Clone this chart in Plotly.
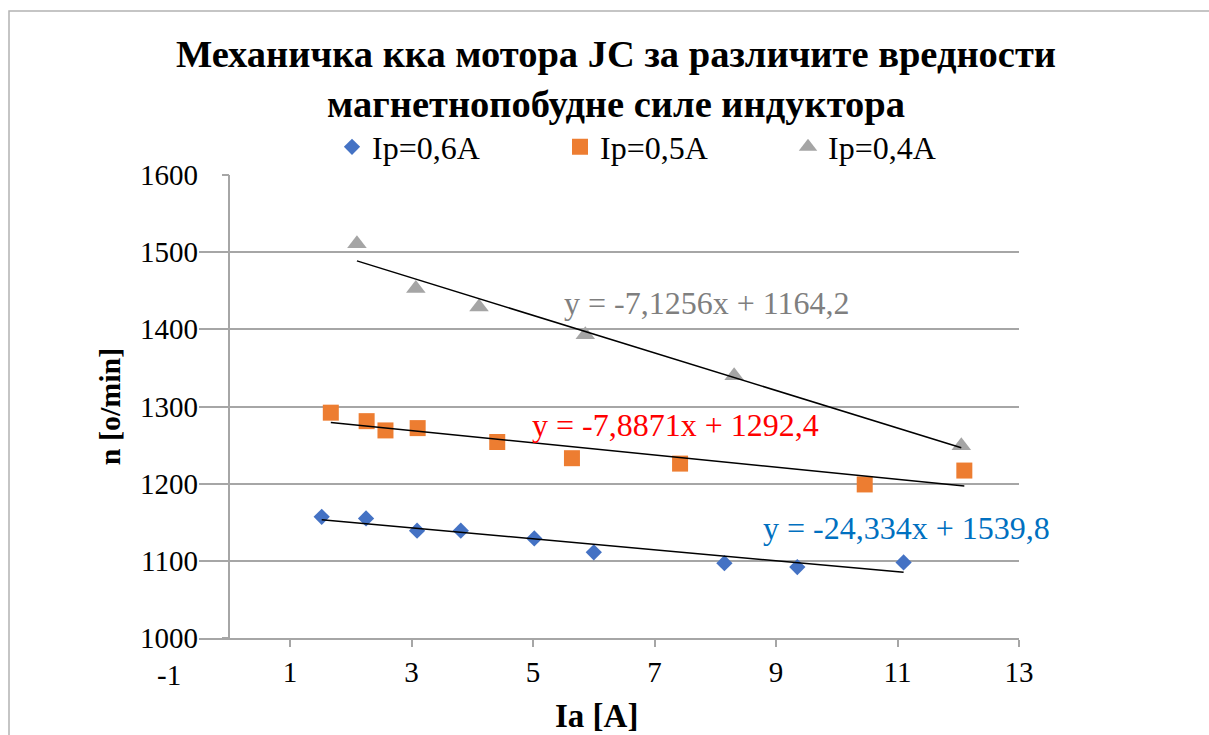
import plotly.graph_objects as go

# ---- data ----
ia_06 = [1.52, 2.25, 3.09, 3.81, 5.02, 6.00, 8.15, 9.35, 11.10]
n_06 = [1157, 1155, 1139, 1139, 1129, 1111, 1097, 1092, 1098]
ia_05 = [1.67, 2.26, 2.57, 3.10, 4.41, 5.64, 7.42, 10.46, 12.10]
n_05 = [1292, 1281, 1269, 1272, 1254, 1233, 1226, 1199, 1217]
ia_04 = [2.10, 3.07, 4.11, 5.86, 8.31, 12.05]
n_04 = [1511, 1453, 1429, 1393, 1340, 1249]

series_names = ["Ip=0,6A", "Ip=0,5A", "Ip=0,4A"]
series_colors = ["#4472C4", "#ED7D31", "#A5A5A5"]
series_symbols = ["diamond", "square", "triangle-up"]
series_sizes = [12.5, 16, 17]

# linear trendline coefficients printed on the chart (one per series)
trend_slope = [-7.1256, -7.8871, -24.334]
trend_intercept = [1164.2, 1292.4, 1539.8]
eq_labels = ["y = -7,1256x + 1164,2", "y = -7,8871x + 1292,4", "y = -24,334x + 1539,8"]
eq_colors = ["#7F7F7F", "#FF0000", "#0070C0"]
eq_x = [7.87, 7.34, 11.15]
eq_y = [1434, 1276, 1142]

x_ticks = [-1, 1, 3, 5, 7, 9, 11, 13]
y_ticks = [1000, 1100, 1200, 1300, 1400, 1500, 1600]

title_text = "Механичка кка мотора JC за различите вредности<br>магнетнопобудне силе индуктора"
x_title = "Ia [A]"
y_title = "n [o/min]"

# ---- layout geometry ----
W, H = 1209, 735
L, R, T, B = 199, 190, 175, 97
x_range = [-0.5, 13]
y_range = [1000, 1600]
FONT = "Liberation Serif"
GRID = "#A6A6A6"

xs = [ia_06, ia_05, ia_04]
ys = [n_06, n_05, n_04]

fig = go.Figure()
for i in range(3):
    fig.add_trace(go.Scatter(
        x=xs[i], y=ys[i], mode="markers", name=series_names[i],
        marker=dict(symbol=series_symbols[i], color=series_colors[i],
                    size=series_sizes[i], line=dict(width=0)),
    ))
for i in range(3):
    x0, x1 = min(xs[i]), max(xs[i])
    fig.add_trace(go.Scatter(
        x=[x0, x1],
        y=[trend_slope[i] * x0 + trend_intercept[i], trend_slope[i] * x1 + trend_intercept[i]],
        mode="lines", line=dict(color="black", width=1.5),
        showlegend=False, hoverinfo="skip",
    ))
# helper trace for the vertical axis drawn at x = 0
fig.add_trace(go.Scatter(x=[], y=[], yaxis="y2", showlegend=False))

for i in range(3):
    fig.add_annotation(x=eq_x[i], y=eq_y[i], xref="x", yref="y", text=eq_labels[i],
                       showarrow=False, font=dict(family=FONT, size=32, color=eq_colors[i]),
                       xanchor="center", yanchor="middle")

plot_w = W - L - R
plot_h = H - T - B
span = x_range[1] - x_range[0]

# first x tick label (-1) lies left of the plotted area
fig.add_annotation(x=(x_ticks[0] - x_range[0]) / span, y=0, xref="paper", yref="paper",
                   text=str(x_ticks[0]), showarrow=False,
                   font=dict(family=FONT, size=29, color="black"),
                   xanchor="center", yanchor="top", yshift=-19)

# x axis title
fig.add_annotation(x=(596 - L) / plot_w, y=0, xref="paper", yref="paper",
                   text="<b>" + x_title + "</b>", showarrow=False,
                   font=dict(family=FONT, size=33, color="black"),
                   xanchor="center", yanchor="middle", yshift=-78)

# chart border
fig.add_shape(type="rect", xref="paper", yref="paper",
              x0=(9 - L) / plot_w, x1=(W + 10 - L) / plot_w,
              y0=(H - B - (H + 10)) / plot_h, y1=(H - B - 11) / plot_h,
              line=dict(color="#B3B3B3", width=1.5), fillcolor="rgba(0,0,0,0)", layer="below")

fig.update_layout(
    width=W, height=H,
    margin=dict(l=L, r=R, t=T, b=B, autoexpand=False),
    paper_bgcolor="white", plot_bgcolor="white",
    font=dict(family=FONT, color="black"),
    title=dict(text="<b>" + title_text + "</b>", x=616 / W, xanchor="center", xref="container",
               y=1 - 67 / H, yanchor="top", yref="container",
               font=dict(family=FONT, size=38.5, color="black")),
    legend=dict(orientation="h", xref="container", yref="container",
                x=674 / W, xanchor="center", y=1 - 147 / H, yanchor="middle",
                font=dict(family=FONT, size=32, color="black"),
                entrywidth=183, entrywidthmode="pixels",
                bgcolor="rgba(0,0,0,0)"),
    xaxis=dict(range=x_range, tickvals=x_ticks[1:], ticktext=[str(v) for v in x_ticks[1:]],
               showgrid=False, zeroline=False, showline=True, linecolor=GRID, linewidth=1.5,
               ticks="outside", ticklen=7, tickcolor=GRID, tickwidth=1.5,
               tickfont=dict(family=FONT, size=29, color="black")),
    yaxis=dict(range=y_range, tickvals=y_ticks, ticktext=[str(v) for v in y_ticks],
               showgrid=True, gridcolor=GRID, gridwidth=1.5, zeroline=False,
               showline=False, ticks="",
               tickfont=dict(family=FONT, size=29, color="black"),
               title=dict(text="<b>" + y_title + "</b>", standoff=10,
                          font=dict(family=FONT, size=30, color="black"))),
    yaxis2=dict(range=y_range, tickvals=y_ticks, overlaying="y", anchor="free",
                position=(0 - x_range[0]) / span, side="left",
                showline=True, linecolor=GRID, linewidth=1.5,
                ticks="outside", ticklen=7, tickcolor=GRID, tickwidth=1.5,
                showticklabels=False, showgrid=False, zeroline=False),
)

fig.write_html("out.html")
